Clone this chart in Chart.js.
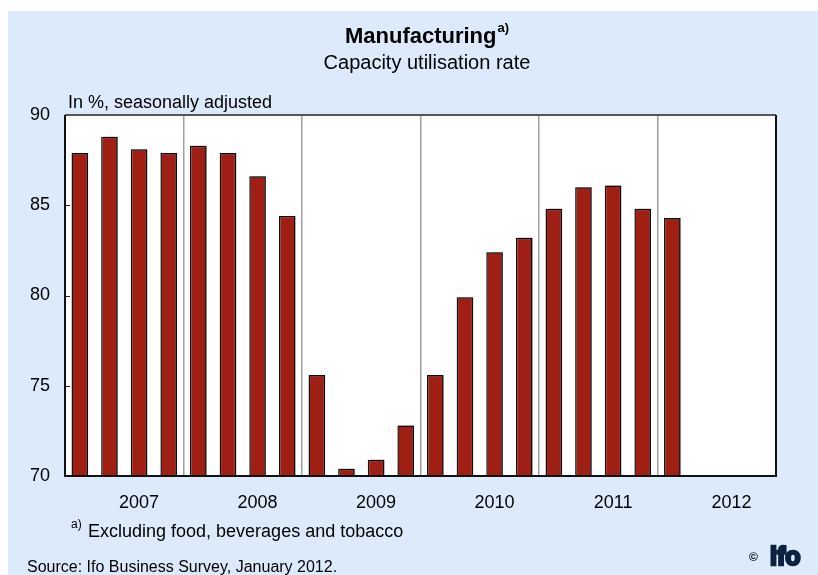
<!DOCTYPE html>
<html>
<head>
<meta charset="utf-8">
<script src="https://cdn.jsdelivr.net/npm/chart.js@4/dist/chart.umd.min.js"></script>
<style>
  body { margin: 0; background: #fff; }
  canvas { display: block; }
</style>
</head>
<body>
<canvas id="chart" width="818" height="575"></canvas>
<script>
const years = ['2007', '2008', '2009', '2010', '2011', '2012'];
const quarters = ['Q1', 'Q2', 'Q3', 'Q4'];
// capacity utilisation, % seasonally adjusted, quarterly
const utilisation = [
    87.9, 88.8, 88.1, 87.9,
    88.3, 87.9, 86.6, 84.4,
    75.6, 70.4, 70.9, 72.8,
    75.6, 79.9, 82.4, 83.2,
    84.8, 86.0, 86.1, 84.8,
    84.3, null, null, null
];
const yTicks = [70, 75, 80, 85, 90];

const categories = [];
years.forEach(y => quarters.forEach(q => categories.push(y + ' ' + q)));

const FONT = '"Liberation Sans", Arial, sans-serif';
const panelColor = '#dceafb';

// background, plot box, titles and notes
const decor = {
    id: 'decor',
    beforeDraw(chart) {
        const ctx = chart.ctx;
        const a = chart.chartArea;
        ctx.save();
        ctx.fillStyle = '#fff';
        ctx.fillRect(0, 0, chart.width, chart.height);
        ctx.fillStyle = panelColor;
        ctx.fillRect(8, 11, chart.width - 8, chart.height - 11);
        ctx.fillStyle = '#fff';
        ctx.fillRect(a.left, a.top, a.right - a.left, a.bottom - a.top);
        ctx.restore();
    },
    beforeDatasetsDraw(chart) {
        const ctx = chart.ctx;
        ctx.save();
        ctx.shadowColor = 'rgba(0,0,0,0.35)';
        ctx.shadowOffsetX = 2;
        ctx.shadowOffsetY = -1;
        ctx.shadowBlur = 1;
    },
    afterDatasetsDraw(chart) {
        const ctx = chart.ctx;
        ctx.restore();
        const a = chart.chartArea;
        const y = chart.scales.y;
        ctx.save();
        // short inward ticks on the left axis
        ctx.strokeStyle = '#222';
        ctx.lineWidth = 1;
        yTicks.forEach(v => {
            const py = Math.round(y.getPixelForValue(v)) + 0.5;
            ctx.beginPath();
            ctx.moveTo(a.left, py);
            ctx.lineTo(a.left + 5, py);
            ctx.stroke();
        });
        // plot frame
        ctx.lineWidth = 2;
        ctx.strokeStyle = '#555';
        ctx.beginPath();
        ctx.moveTo(a.left, a.top);
        ctx.lineTo(a.right, a.top);
        ctx.stroke();
        ctx.strokeStyle = '#111';
        ctx.beginPath();
        ctx.moveTo(a.right, a.top);
        ctx.lineTo(a.right, a.bottom);
        ctx.lineTo(a.left, a.bottom);
        ctx.lineTo(a.left, a.top);
        ctx.stroke();
        ctx.restore();
    },
    afterDraw(chart) {
        const ctx = chart.ctx;
        ctx.save();
        ctx.fillStyle = '#000';
        ctx.textBaseline = 'alphabetic';

        // title with superscript
        ctx.font = 'bold 22px ' + FONT;
        const t = 'Manufacturing';
        const tw = ctx.measureText(t).width;
        ctx.font = 'bold 13px ' + FONT;
        const sw = ctx.measureText('a)').width;
        const tx = 427 - (tw + sw + 1) / 2;
        ctx.textAlign = 'left';
        ctx.font = 'bold 22px ' + FONT;
        ctx.fillText(t, tx, 43);
        ctx.font = 'bold 13px ' + FONT;
        ctx.fillText('a)', tx + tw + 1, 32);

        ctx.textAlign = 'center';
        ctx.font = '20px ' + FONT;
        ctx.fillText('Capacity utilisation rate', 427, 69);

        ctx.textAlign = 'left';
        ctx.font = '18px ' + FONT;
        ctx.fillText('In %, seasonally adjusted', 68, 108);

        // footnote
        ctx.font = '12px ' + FONT;
        ctx.fillText('a)', 71, 528);
        ctx.font = '18px ' + FONT;
        ctx.fillText('Excluding food, beverages and tobacco', 88, 537);

        ctx.font = '16px ' + FONT;
        ctx.fillText('Source: Ifo Business Survey, January 2012.', 27, 572);

        // copyright mark and logo
        ctx.font = 'bold 12px ' + FONT;
        ctx.fillText('\u00a9', 749, 561);
        ctx.fillStyle = '#0b2340';
        ctx.strokeStyle = '#0b2340';
        ctx.lineWidth = 2.5;
        ctx.font = 'bold 25px ' + FONT;
        ctx.strokeText('ifo', 770, 565);
        ctx.fillText('ifo', 770, 565);
        ctx.restore();
    }
};

new Chart(document.getElementById('chart'), {
    type: 'bar',
    data: {
        labels: categories,
        datasets: [{
            data: utilisation,
            backgroundColor: '#9f1f15',
            borderColor: '#111',
            borderWidth: 1.5,
            borderSkipped: false,
            barPercentage: 0.56,
            categoryPercentage: 1.0
        }]
    },
    options: {
        responsive: false,
        animation: false,
        layout: { padding: { top: 115, right: 42, bottom: 0, left: 0 } },
        plugins: {
            legend: { display: false },
            tooltip: { enabled: false },
            title: { display: false }
        },
        scales: {
            x: {
                offset: true,
                border: { display: false },
                grid: {
                    offset: true,
                    drawTicks: false,
                    lineWidth: 1.5,
                    color: c => (c.index % 4 === 0 && c.index > 0) ? '#a0a0a0' : 'rgba(0,0,0,0)'
                },
                ticks: {
                    autoSkip: false,
                    maxRotation: 0,
                    padding: 16,
                    color: '#000',
                    font: { family: FONT, size: 18 },
                    callback: (v, i) => i % 4 === 2 ? years[Math.floor(i / 4)] : ''
                },
                afterFit: s => { s.height = 99; }
            },
            y: {
                min: 70,
                max: 90,
                border: { display: false },
                grid: { display: false },
                ticks: {
                    stepSize: 5,
                    padding: 7,
                    color: '#000',
                    font: { family: FONT, size: 18 }
                },
                afterFit: s => { s.width = 65; }
            }
        }
    },
    plugins: [decor]
});
</script>
</body>
</html>
